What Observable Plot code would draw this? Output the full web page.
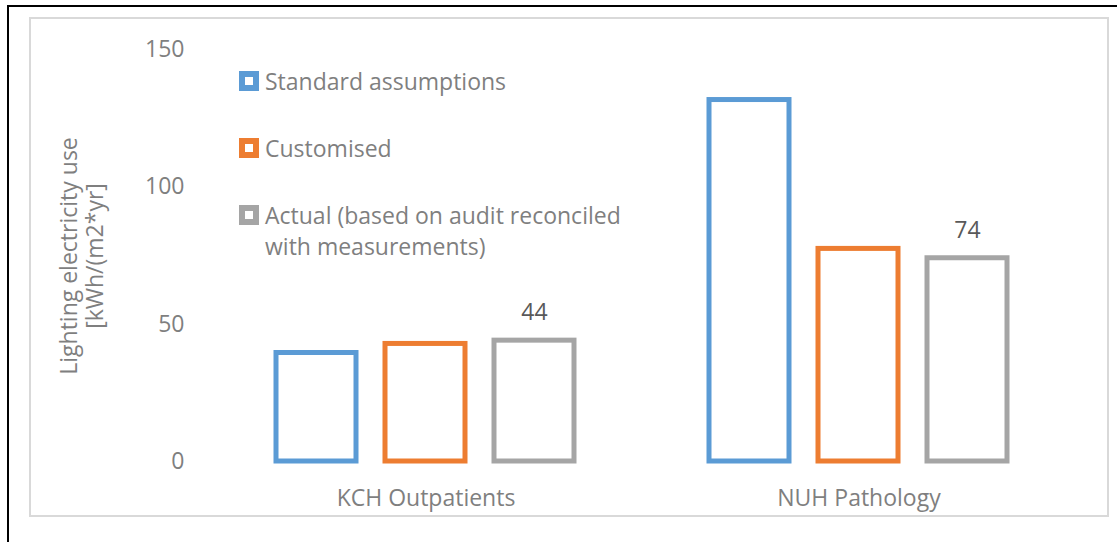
<!DOCTYPE html>
<html>
<head>
<meta charset="utf-8">
<script src="https://cdn.jsdelivr.net/npm/d3@7"></script>
<script src="https://cdn.jsdelivr.net/npm/@observablehq/plot@0.6"></script>
<style>
  html, body { margin: 0; padding: 0; background: #fff; }
  #wrap { position: relative; width: 1117px; height: 542px; overflow: hidden; font-family: "Open Sans", sans-serif; color: #7f7f7f; }
  #frame { position: absolute; left: 7px; top: 5px; width: 1200px; height: 600px; border-left: 2px solid #000; border-top: 2px solid #000; }
  #inner { position: absolute; left: 29px; top: 17px; width: 1076px; height: 496px; border: 2px solid #d9d9d9; }
  #chart { position: absolute; left: 0; top: 0; }
  #legend { position: absolute; left: 239px; top: 65.5px; font-size: 23px; line-height: 31px; }
  .item { display: flex; align-items: flex-start; margin-bottom: 36px; }
  .sw { width: 8px; height: 8px; border: 6px solid; background: #fff; margin-top: 5.5px; margin-right: 6px; flex: none; }
  .lab { width: 385px; }
  #ylab { position: absolute; left: 81px; top: 256px; transform: translate(-50%, -50%) rotate(-90deg); white-space: nowrap; text-align: center; font-size: 23px; line-height: 26px; }
</style>
</head>
<body>
<div id="wrap">
  <div id="frame"></div>
  <div id="inner"></div>
  <div id="chart"></div>
  <div id="legend"></div>
  <div id="ylab"></div>
</div>
<script>
const groups = ["KCH Outpatients", "NUH Pathology"];
const series = ["Standard assumptions", "Customised", "Actual (based on audit reconciled with measurements)"];
const standard = [39.5, 131.6];
const customised = [42.8, 77.4];
const actual = [44, 74];
const colors = ["#5b9bd5", "#ed7d31", "#a5a5a5"];
const yTicks = [0, 50, 100, 150];
const yLabel = ["Lighting electricity use", "[kWh/(m2*yr]"];

const values = [standard, customised, actual];
const data = [];
groups.forEach((g, gi) => {
  series.forEach((s, si) => {
    data.push({group: g, series: s, value: values[si][gi]});
  });
});
const labelled = data.filter(d => d.series === series[2]);

const chart = Plot.plot({
  width: 1117,
  height: 542,
  marginTop: 49,
  marginBottom: 81,
  marginLeft: 208,
  marginRight: 42,
  style: {fontFamily: "Open Sans, sans-serif", fontSize: "23px", color: "#7f7f7f", background: "transparent", overflow: "visible"},
  fx: {domain: groups, padding: 0, axis: "bottom", tickSize: 0, tickPadding: 28, label: null},
  x: {domain: series, paddingInner: 0.264, paddingOuter: 0.602, axis: null},
  y: {domain: [0, 150], ticks: yTicks, tickSize: 0, tickPadding: 25, label: null},
  color: {domain: series, range: colors},
  marks: [
    Plot.barY(data, {fx: "group", x: "series", y: "value", stroke: "series", fill: "white", strokeWidth: 5}),
    Plot.text(labelled, {fx: "group", x: "series", y: "value", text: d => String(d.value), dy: -28, fill: "#595959", fontSize: 23})
  ]
});
document.getElementById("chart").appendChild(chart);

const legend = document.getElementById("legend");
series.forEach((s, i) => {
  const item = document.createElement("div");
  item.className = "item";
  const sw = document.createElement("div");
  sw.className = "sw";
  sw.style.borderColor = colors[i];
  const lab = document.createElement("div");
  lab.className = "lab";
  lab.textContent = s;
  item.appendChild(sw);
  item.appendChild(lab);
  legend.appendChild(item);
});

const yl = document.getElementById("ylab");
yLabel.forEach(t => {
  const d = document.createElement("div");
  d.textContent = t;
  yl.appendChild(d);
});
</script>
</body>
</html>
